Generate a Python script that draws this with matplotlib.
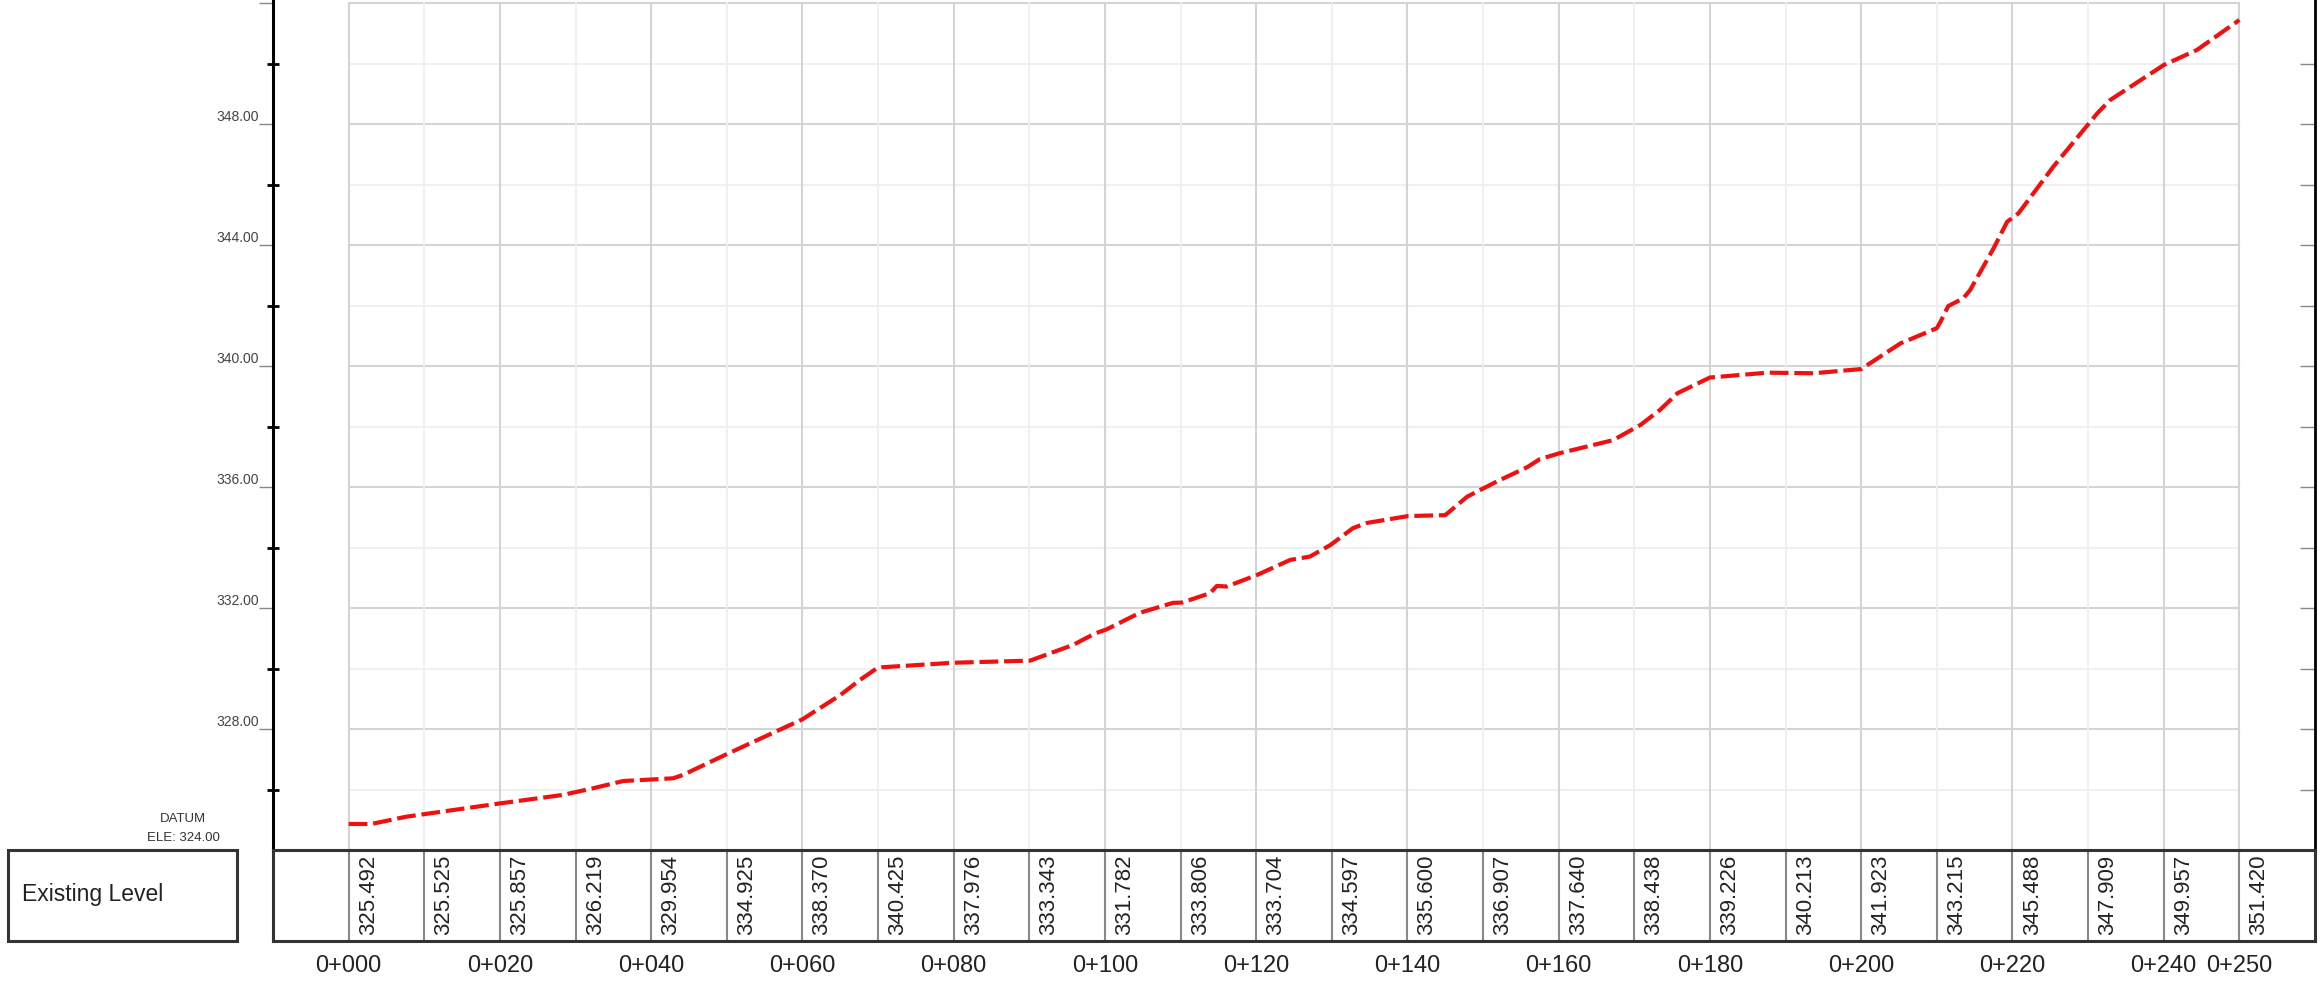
import numpy as np
import matplotlib
matplotlib.use('Agg')
import matplotlib.pyplot as plt
from matplotlib.patches import Rectangle

# ground profile (chainage m, elevation m)
profile_ch = [0, 3.0, 7.6, 20.0, 28.3, 32.3, 36.3, 42.9, 44.2, 50.0, 60.0, 65.0,
              67.6, 69.8, 70.5, 79.9, 90.1, 95.8, 98.7, 100.2, 104.6, 109.0, 110.2,
              113.9, 114.8, 116.1, 120.1, 124.5, 127.1, 129.8, 132.8, 134.6, 140.1,
              145.0, 147.9, 151.8, 155.8, 157.5, 160.0, 167.2, 170.8, 173.4, 175.7,
              180.0, 187.6, 193.7, 200.0, 205.2, 210.0, 210.5, 211.5, 213.5, 214.4,
              217.5, 219.3, 220.8, 225.4, 231.2, 232.9, 240.0, 244.4, 250.0]
profile_elev = [324.86, 324.86, 325.10, 325.54, 325.82, 326.04, 326.28, 326.37, 326.48,
                327.17, 328.32, 329.12, 329.62, 330.00, 330.04, 330.19, 330.26, 330.78,
                331.16, 331.29, 331.84, 332.17, 332.18, 332.49, 332.73, 332.71, 333.09,
                333.59, 333.70, 334.08, 334.64, 334.81, 335.04, 335.07, 335.68, 336.18,
                336.65, 336.92, 337.11, 337.55, 338.05, 338.55, 339.10, 339.62, 339.78,
                339.76, 339.90, 340.75, 341.25, 341.47, 341.98, 342.24, 342.51, 343.89,
                344.77, 345.05, 346.59, 348.35, 348.79, 349.95, 350.45, 351.44]

# band table
table_ch = [0, 10, 20, 30, 40, 50, 60, 70, 80, 90, 100, 110, 120, 130, 140, 150,
            160, 170, 180, 190, 200, 210, 220, 230, 240, 250]
table_levels = [325.492, 325.525, 325.857, 326.219, 329.954, 334.925, 338.370,
                340.425, 337.976, 333.343, 331.782, 333.806, 333.704, 334.597,
                335.600, 336.907, 337.640, 338.438, 339.226, 340.213, 341.923,
                343.215, 345.488, 347.909, 349.957, 351.420]
chainage_ticks = [0, 20, 40, 60, 80, 100, 120, 140, 160, 180, 200, 220, 240, 250]
chainage_labels = ['0+000', '0+020', '0+040', '0+060', '0+080', '0+100', '0+120',
                   '0+140', '0+160', '0+180', '0+200', '0+220', '0+240', '0+250']
datum = 324.0

plt.rcParams['font.family'] = ['Liberation Sans', 'DejaVu Sans']

W, H = 2320, 989
fig = plt.figure(figsize=(23.2, 9.89), dpi=100)
fig.patch.set_facecolor('white')


def fx(px):
    return px / W


def fy(py):
    return 1 - py / H


# profile axes
ax = fig.add_axes([fx(273), fy(850), fx(2315 - 273), 850 / H])
ax.set_xlim(-10, 260)
ax.set_ylim(datum, 352.1)

major_y = np.arange(328, 353, 4)
minor_y = np.arange(326, 352, 4)
for y in minor_y:
    ax.plot([0, 250], [y, y], color='#efefef', lw=1.3, zorder=1)
for y in major_y:
    ax.plot([0, 250], [y, y], color='#d4d4d4', lw=1.5, zorder=1)
for x in np.arange(10, 250, 20):
    ax.plot([x, x], [datum, 352], color='#efefef', lw=1.3, zorder=1)
for x in list(np.arange(0, 250, 20)) + [250]:
    ax.plot([x, x], [datum, 352], color='#d4d4d4', lw=1.5, zorder=1)

ax.plot(profile_ch, profile_elev, color='#f01010', lw=3.0,
        linestyle=(0, (4.5, 1.4)), zorder=3)

ax.set_xticks([])
ax.set_yticks(major_y)
ax.set_yticklabels([f'{v:.2f}' if v < 350 else '' for v in major_y])
ax.set_yticks(minor_y, minor=True)
ax.tick_params(axis='y', which='major', direction='out', length=10, width=1,
               color='#888888', labelsize=10, labelcolor='#444444', pad=0)
ax.tick_params(axis='y', which='minor', direction='inout', length=9, width=2,
               color='black')
for lab in ax.get_yticklabels():
    lab.set_verticalalignment('bottom')
for side in ['top', 'right', 'bottom']:
    ax.spines[side].set_visible(False)
ax.spines['left'].set_linewidth(2.2)
ax.spines['left'].set_color('black')

twin = ax.twinx()
twin.set_ylim(ax.get_ylim())
twin.set_yticks(np.arange(326, 352, 2))
twin.tick_params(axis='y', direction='in', length=11, width=1, color='#888888',
                 labelright=False)
for side in ['top', 'left', 'bottom']:
    twin.spines[side].set_visible(False)
twin.spines['right'].set_linewidth(2.0)
twin.spines['right'].set_color('black')

# band table under the profile
tab = fig.add_axes([fx(273), fy(941), fx(2315 - 273), 91 / H])
tab.set_xlim(-10, 260)
tab.set_ylim(0, 1)
for ch in table_ch:
    tab.axvline(ch, color='#888888', lw=1.5)
for ch, lv in zip(table_ch, table_levels):
    tab.text(ch + 2.6, 0.07, f'{lv:.3f}', rotation=90, ha='center', va='bottom',
             fontsize=16, color='#222222')
tab.set_yticks([])
tab.set_xticks(chainage_ticks)
tab.set_xticklabels(chainage_labels)
tab.tick_params(axis='x', length=0, pad=10, labelsize=17, labelcolor='#222222')
for side in tab.spines:
    tab.spines[side].set_linewidth(2.2)
    tab.spines[side].set_color('#333333')

# title box on the left
fig.add_artist(Rectangle((fx(8), fy(941)), fx(229), 91 / H, transform=fig.transFigure,
                         fill=False, ec='#333333', lw=2.2))
fig.text(fx(22), fy(895), 'Existing Level', ha='left', va='center', fontsize=16.5,
         color='#222222')
fig.text(fx(183), fy(819), 'DATUM', ha='center', va='center', fontsize=9.5,
         color='#333333')
fig.text(fx(183), fy(838), f'ELE: {datum:.2f}', ha='center', va='center',
         fontsize=9.5, color='#333333')

fig.savefig('out.png', dpi=100)
